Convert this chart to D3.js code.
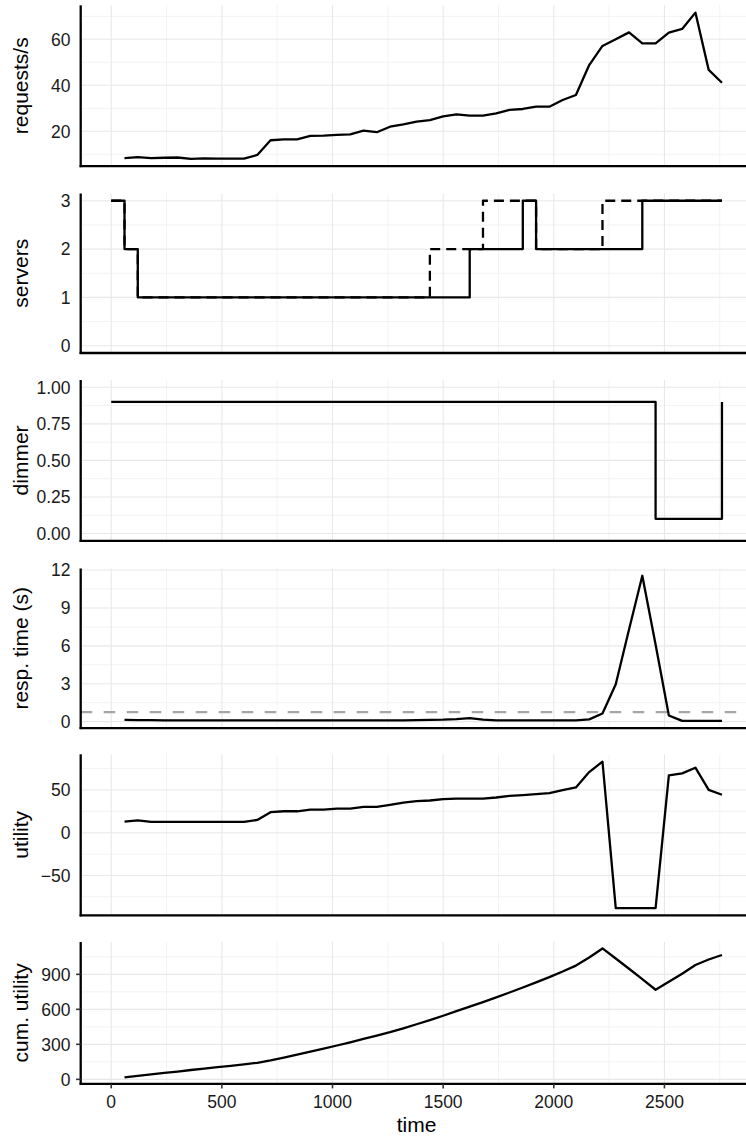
<!DOCTYPE html>
<html><head><meta charset="utf-8">
<script src="https://cdn.jsdelivr.net/npm/d3@7"></script>
<style>body{margin:0;background:#fff}svg{display:block}</style>
</head><body>
<svg id="c" width="746" height="1136"></svg>
<script>
// ---- data ----
const time = [60,120,180,240,300,360,420,480,540,600,660,720,780,840,900,960,1020,1080,1140,1200,1260,1320,1380,1440,1500,1560,1620,1680,1740,1800,1860,1920,1980,2040,2100,2160,2220,2280,2340,2400,2460,2520,2580,2640,2700,2760];
const requests = [8.3,8.8,8.3,8.5,8.6,8.0,8.2,8.1,8.1,8.1,9.7,16.1,16.5,16.5,18.0,18.1,18.4,18.7,20.3,19.6,22.0,23.0,24.2,24.9,26.5,27.4,26.8,26.8,27.8,29.3,29.7,30.7,30.7,33.6,35.8,48.8,57.1,60.0,63.0,58.2,58.2,62.9,64.5,71.6,46.7,41.1];
const respTime = [0.13,0.12,0.11,0.1,0.1,0.1,0.1,0.1,0.1,0.1,0.1,0.1,0.1,0.1,0.1,0.1,0.1,0.1,0.1,0.1,0.1,0.1,0.12,0.13,0.15,0.2,0.28,0.15,0.1,0.1,0.1,0.1,0.1,0.1,0.1,0.18,0.64,2.96,7.3,11.55,6.1,0.48,0.06,0.06,0.06,0.06];
const utility = [13.0,14.5,12.6,12.6,12.6,12.6,12.6,12.6,12.6,12.6,14.9,24.0,25.1,25.1,27.1,27.1,28.3,28.3,30.2,30.2,32.6,35.3,36.9,37.7,39.3,40.0,40.0,40.0,41.2,43.2,44.0,45.1,46.3,49.8,53.0,71.0,83.2,-88.2,-88.2,-88.2,-88.2,67.1,69.4,76.1,50.2,44.4];
const cumUtility = [17,30,43,55,67,80,92,104,116,128,142,163,187,211,237,263,290,317,346,375,404,437,472,508,545,584,623,662,702,744,787,831,876,924,975,1044,1122,1036,948,859,768,836,905,980,1027,1066];
const serverTime = [0,60,120,1620,1860,1920,2400,2760];
const servers = [3,2,1,2,3,2,3,3];
const bootTime = [0,60,120,1440,1680,1920,2220,2760];
const serversInclBooting = [3,2,1,2,3,2,3,3];
const dimmerTime = [0,2460,2760];
const dimmer = [0.9,0.1,0.9];
const rtThreshold = 0.75;
const xTicks = [0,500,1000,1500,2000,2500];
const xMinor = [250,750,1250,1750,2250,2750];
const titles = ["requests/s","servers","dimmer","resp. time (s)","utility","cum. utility"];
const yTicks = [[20,40,60],[0,1,2,3],[0,0.25,0.5,0.75,1],[0,3,6,9,12],[-50,0,50],[0,300,600,900]];
const yMinor = [[10,30,50,70],[0.5,1.5,2.5],[0.125,0.375,0.625,0.875],[1.5,4.5,7.5,10.5],[-75,-25,25,75],[150,450,750,1050]];

// ---- layout ----
const svg = d3.select("#c");
const W = 746;
const L = 80.7, R = 752.5;
const tops = [5.3,193.5,380,568.5,754.3,942];
const bots = [166.2,353,540.8,728.1,915.4,1083.8];
const expand = (lo,hi)=>{const r=hi-lo;return [lo-0.05*r,hi+0.05*r];};
const x = d3.scaleLinear().domain(expand(0,2760)).range([L,R]);

const domains = [
  expand(d3.min(requests),d3.max(requests)),
  expand(0,3),
  expand(0,1),
  expand(Math.min(d3.min(respTime),rtThreshold),d3.max(respTime)),
  expand(d3.min(utility),d3.max(utility)),
  expand(d3.min(cumUtility),d3.max(cumUtility))
];
const fmts = [d3.format("d"),d3.format("d"),d3.format(".2f"),d3.format("d"),d3.format("d"),d3.format("d")];
const FONT = "'Liberation Sans', Arial, Helvetica, sans-serif";
const gridMajor = "#e8e8e8", gridMinor = "#f3f3f3";

const line = (xs,ys,y,curve)=>d3.line().x((d,i)=>x(xs[i])).y((d,i)=>y(ys[i])).curve(curve||d3.curveLinear)(ys);

for (let p=0;p<6;p++){
  const y = d3.scaleLinear().domain(domains[p]).range([bots[p],tops[p]]);
  const g = svg.append("g");
  // grid
  g.selectAll(null).data(yMinor[p]).join("line")
    .attr("x1",L).attr("x2",R).attr("y1",d=>y(d)).attr("y2",d=>y(d))
    .attr("stroke",gridMinor).attr("stroke-width",1);
  g.selectAll(null).data(xMinor).join("line")
    .attr("x1",d=>x(d)).attr("x2",d=>x(d)).attr("y1",tops[p]).attr("y2",bots[p])
    .attr("stroke",gridMinor).attr("stroke-width",1);
  g.selectAll(null).data(yTicks[p]).join("line")
    .attr("x1",L).attr("x2",R).attr("y1",d=>y(d)).attr("y2",d=>y(d))
    .attr("stroke",gridMajor).attr("stroke-width",1.1);
  g.selectAll(null).data(xTicks).join("line")
    .attr("x1",d=>x(d)).attr("x2",d=>x(d)).attr("y1",tops[p]).attr("y2",bots[p])
    .attr("stroke",gridMajor).attr("stroke-width",1.1);

  const path = (dstr,dash,col,w)=>g.append("path").attr("d",dstr).attr("fill","none")
     .attr("stroke",col||"#000").attr("stroke-width",w||2.3).attr("stroke-linejoin","round")
     .attr("stroke-dasharray",dash||null);

  if (p===0) path(line(time,requests,y));
  if (p===1){
    path(line(bootTime,serversInclBooting,y,d3.curveStepAfter),"10,6");
    path(line(serverTime,servers,y,d3.curveStepAfter));
  }
  if (p===2) path(line(dimmerTime,dimmer,y,d3.curveStepAfter));
  if (p===3){
    g.append("line").attr("x1",L).attr("x2",R).attr("y1",y(rtThreshold)).attr("y2",y(rtThreshold))
      .attr("stroke","#a6a6a6").attr("stroke-width",2.2).attr("stroke-dasharray","11.5,11.5");
    path(line(time,respTime,y));
  }
  if (p===4) path(line(time,utility,y));
  if (p===5) path(line(time,cumUtility,y));

  // axis lines
  g.append("line").attr("x1",L).attr("x2",L).attr("y1",tops[p]).attr("y2",bots[p]+1)
    .attr("stroke","#000").attr("stroke-width",2.3);
  g.append("line").attr("x1",L-1.1).attr("x2",W+10).attr("y1",bots[p]).attr("y2",bots[p])
    .attr("stroke","#000").attr("stroke-width",2.3);

  // y tick labels
  g.selectAll(null).data(yTicks[p]).join("text")
    .attr("x",70.5).attr("y",d=>y(d)).attr("dy","0.36em")
    .attr("text-anchor","end").attr("font-family",FONT).attr("font-size",17.5).attr("fill","#1a1a1a")
    .text(d=>fmts[p](d));
  // y title
  g.append("text").attr("transform",`translate(27.5,${(tops[p]+bots[p])/2}) rotate(-90)`)
    .attr("text-anchor","middle").attr("font-family",FONT).attr("font-size",21).attr("fill","#000")
    .text(titles[p]);

  if (p===5){
    g.selectAll(null).data(yTicks[p]).join("line")
      .attr("x1",L-4.6).attr("x2",L).attr("y1",d=>y(d)).attr("y2",d=>y(d))
      .attr("stroke","#333").attr("stroke-width",1.6);
    g.selectAll(null).data(xTicks).join("line")
      .attr("x1",d=>x(d)).attr("x2",d=>x(d)).attr("y1",bots[p]).attr("y2",bots[p]+4.6)
      .attr("stroke","#333").attr("stroke-width",1.6);
    g.selectAll(null).data(xTicks).join("text")
      .attr("x",d=>x(d)).attr("y",1108.3).attr("text-anchor","middle")
      .attr("font-family",FONT).attr("font-size",17.5).attr("fill","#1a1a1a").text(d=>d);
    g.append("text").attr("x",(L+R)/2).attr("y",1131.5).attr("text-anchor","middle")
      .attr("font-family",FONT).attr("font-size",21).attr("fill","#000").text("time");
  }
}
</script>
</body></html>
